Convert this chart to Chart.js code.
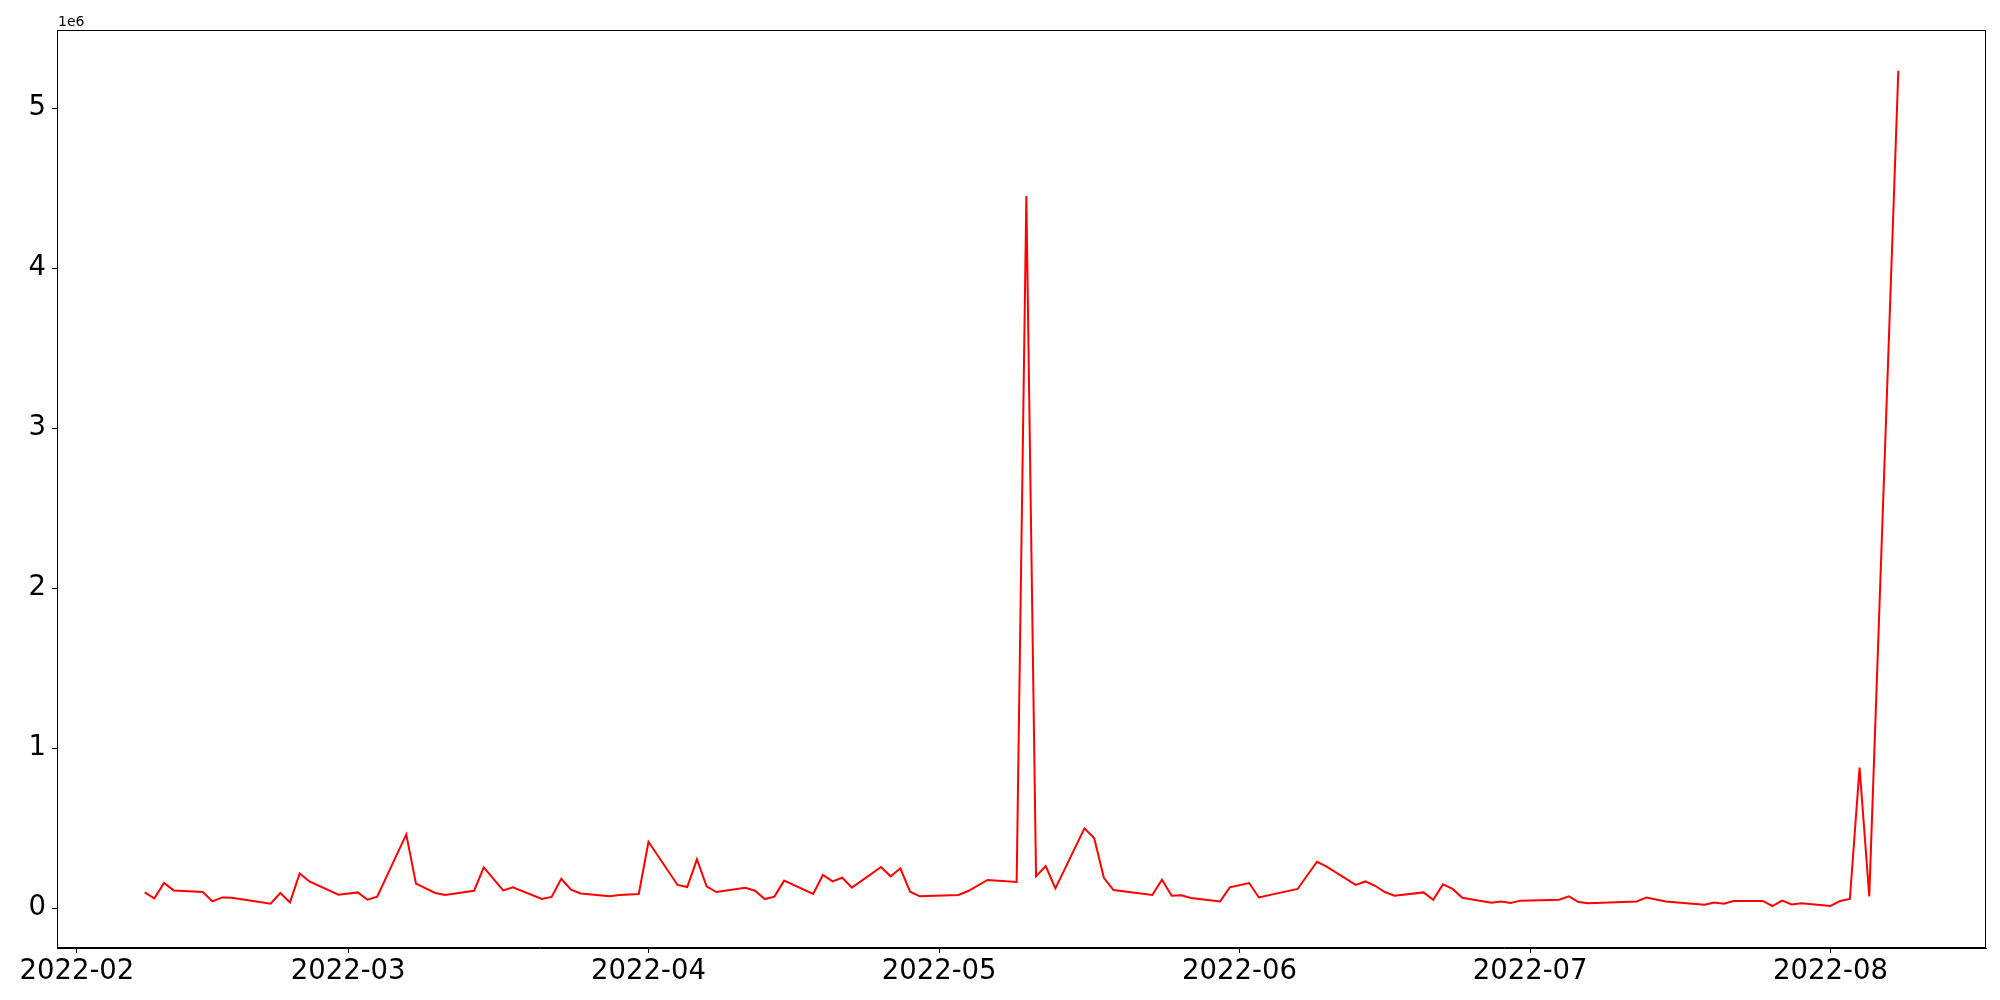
<!DOCTYPE html>
<html>
<head>
<meta charset="utf-8">
<script src="https://cdn.jsdelivr.net/npm/chart.js@4/dist/chart.umd.min.js"></script>
<style>
    html, body { margin: 0; padding: 0; background: #fff; }
    #seriesChart { display: block; }
</style>
</head>
<body>
<canvas id="seriesChart" width="2000" height="1000"></canvas>
<script>
// data (trading days, raw values)
const dates = [
    '2022-02-08', '2022-02-09', '2022-02-10', '2022-02-11', '2022-02-14', '2022-02-15', '2022-02-16', '2022-02-17',
    '2022-02-21', '2022-02-22', '2022-02-23', '2022-02-24', '2022-02-25', '2022-02-28',
    '2022-03-02', '2022-03-03', '2022-03-04', '2022-03-07', '2022-03-08', '2022-03-10', '2022-03-11',
    '2022-03-14', '2022-03-15', '2022-03-17', '2022-03-18', '2022-03-21', '2022-03-22', '2022-03-23',
    '2022-03-24', '2022-03-25', '2022-03-28', '2022-03-29', '2022-03-31',
    '2022-04-01', '2022-04-04', '2022-04-05', '2022-04-06', '2022-04-07', '2022-04-08', '2022-04-11',
    '2022-04-12', '2022-04-13', '2022-04-14', '2022-04-15', '2022-04-18', '2022-04-19', '2022-04-20',
    '2022-04-21', '2022-04-22', '2022-04-25', '2022-04-26', '2022-04-27', '2022-04-28', '2022-04-29',
    '2022-05-03', '2022-05-04', '2022-05-06', '2022-05-09', '2022-05-10', '2022-05-11', '2022-05-12',
    '2022-05-13', '2022-05-16', '2022-05-17', '2022-05-18', '2022-05-19', '2022-05-23', '2022-05-24',
    '2022-05-25', '2022-05-26', '2022-05-27', '2022-05-30', '2022-05-31',
    '2022-06-02', '2022-06-03', '2022-06-07', '2022-06-09', '2022-06-10', '2022-06-13', '2022-06-14',
    '2022-06-15', '2022-06-16', '2022-06-17', '2022-06-20', '2022-06-21', '2022-06-22', '2022-06-23',
    '2022-06-24', '2022-06-27', '2022-06-28', '2022-06-29', '2022-06-30',
    '2022-07-04', '2022-07-05', '2022-07-06', '2022-07-07', '2022-07-12', '2022-07-13', '2022-07-15',
    '2022-07-19', '2022-07-20', '2022-07-21', '2022-07-22', '2022-07-25', '2022-07-26', '2022-07-27',
    '2022-07-28', '2022-07-29',
    '2022-08-01', '2022-08-02', '2022-08-03', '2022-08-04', '2022-08-05', '2022-08-08'
];

const values = [
    97500, 60000, 156000, 110000, 100000, 41000, 66000, 64000,
    27000, 94000, 35000, 216000, 166000, 83000,
    97500, 52000, 71000, 460000, 152000, 94000, 81000,
    108000, 254000, 110000, 129000, 56000, 69000, 183000,
    114000, 91000, 73000, 81000, 87500,
    414000, 144000, 131000, 304000, 135000, 100000, 127000,
    108000, 56000, 71000, 171000, 87500, 206000, 166000,
    189000, 127000, 256000, 198000, 248000, 102000, 73000,
    81000, 106000, 175000, 162500, 4450000, 198000, 262500,
    122500, 497500, 437500, 189000, 112500, 81000, 177000,
    77000, 79000, 62500, 41000, 129000,
    156000, 66000, 119000, 289000, 258000, 144000, 166000,
    139000, 100000, 77000, 97500, 52000, 147500, 119000,
    64000, 33000, 41000, 31000, 46000,
    52000, 72500, 37500, 29000, 41000, 66000, 41000,
    21000, 34000, 27000, 43000, 44000, 12500, 46000,
    22500, 29000,
    12500, 44000, 56000, 877000, 72500, 5233000
];

const xTickLabels = ['2022-02', '2022-03', '2022-04', '2022-05', '2022-06', '2022-07', '2022-08'];
const yTicks = [0, 1, 2, 3, 4, 5];     // in units of 1e6
const yScaleFactor = 1e6;

// axis limits (days since 2022-02-01 / raw values)
const xLimits = [-2.05, 197.05];
const yLimits = [-250000, 5487500];

document.addEventListener("DOMContentLoaded", function () {
    const ctx = document.getElementById('seriesChart').getContext('2d');
    const fontFamily = "'DejaVu Sans', sans-serif";
    const origin = Date.UTC(2022, 1, 1);

    function dayOffset(str) {
        const [y, m, d] = str.split('-').map(Number);
        return (Date.UTC(y, m - 1, d || 1) - origin) / 86400000;
    }

    const points = dates.map((d, i) => ({ x: dayOffset(d), y: values[i] }));
    const xTickPositions = xTickLabels.map(dayOffset);

    // frame on all four sides + offset text "1e6"
    const framePlugin = {
        id: 'frame',
        afterDraw(chart) {
            const a = chart.chartArea;
            const c = chart.ctx;
            c.save();
            c.strokeStyle = '#000';
            c.lineWidth = 1;
            c.strokeRect(Math.round(a.left) + 0.5, Math.round(a.top) + 0.5,
                Math.round(a.right - a.left) - 1, Math.round(a.bottom - a.top) - 1);
            c.fillStyle = '#000';
            c.font = "14px " + fontFamily;
            c.textAlign = 'left';
            c.textBaseline = 'alphabetic';
            c.fillText('1e' + Math.log10(yScaleFactor), a.left + 1, a.top - 4);
            c.restore();
        }
    };

    new Chart(ctx, {
        type: 'line',
        data: {
            datasets: [{
                data: points,
                borderColor: '#ff0000',
                borderWidth: 2,
                pointRadius: 0,
                tension: 0,
                fill: false
            }]
        },
        options: {
            responsive: false,
            animation: false,
            parsing: false,
            layout: { padding: { left: 0, top: 30, right: 14, bottom: 0 } },
            plugins: {
                legend: { display: false },
                tooltip: { enabled: false }
            },
            scales: {
                x: {
                    type: 'linear',
                    min: xLimits[0],
                    max: xLimits[1],
                    afterBuildTicks: scale => {
                        scale.ticks = xTickPositions.map(v => ({ value: v }));
                    },
                    afterFit: scale => {
                        scale.height = 52;
                        scale.paddingLeft = 0;
                        scale.paddingRight = 0;
                    },
                    ticks: {
                        color: '#000',
                        font: { family: fontFamily, size: 27.5 },
                        maxRotation: 0,
                        autoSkip: false,
                        padding: 2,
                        callback: (v, i) => xTickLabels[i]
                    },
                    grid: { drawOnChartArea: false, drawTicks: true, tickLength: 5, color: '#000' },
                    border: { display: true, color: '#000', width: 1 }
                },
                y: {
                    type: 'linear',
                    min: yLimits[0],
                    max: yLimits[1],
                    afterBuildTicks: scale => {
                        scale.ticks = yTicks.map(v => ({ value: v * yScaleFactor }));
                    },
                    afterFit: scale => {
                        scale.width = 57;
                        scale.paddingTop = 0;
                        scale.paddingBottom = 0;
                    },
                    ticks: {
                        color: '#000',
                        font: { family: fontFamily, size: 27.5 },
                        padding: 6,
                        callback: v => String(Math.round(v / yScaleFactor))
                    },
                    grid: { drawOnChartArea: false, drawTicks: true, tickLength: 5, color: '#000' },
                    border: { display: true, color: '#000', width: 1 }
                }
            }
        },
        plugins: [framePlugin]
    });
});
</script>
</body>
</html>
